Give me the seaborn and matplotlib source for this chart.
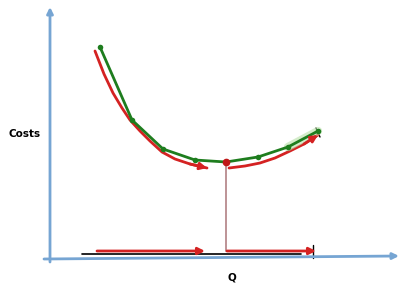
import matplotlib
matplotlib.use("Agg")
import matplotlib.pyplot as plt
import seaborn as sns
import pandas as pd

sns.set_theme(style="white")
plt.rcParams['font.family'] = ['DejaVu Sans']

# Diagram data (pixel-like coordinate space, y grows downward)
green_x = [100, 132, 163, 195, 226, 258, 288, 318]
green_y = [47, 120, 149, 160, 162, 157, 147, 131]

red1_x = [95, 104, 113, 122, 130, 140, 150, 162, 175, 190, 207]
red1_y = [51, 74, 93, 108, 120, 131, 141, 152, 159, 164, 168]

red2_x = [229, 245, 260, 275, 290, 304, 318]
red2_y = [168, 166, 163, 158, 151, 144, 135]

vertex_x = [226]
vertex_y = [162]

GREEN = "#1e7d1e"
RED = "#d42222"
BLUE = "#76a5d3"

fig = plt.figure(figsize=(4.0, 2.88), dpi=100)
ax = fig.add_axes([0, 0, 1, 1])

# axes arrows
arrow_kw = dict(arrowstyle="-|>", color=BLUE, lw=2, mutation_scale=9, shrinkA=0, shrinkB=0)
ax.annotate("", xy=(50, 7), xytext=(50, 262), arrowprops=arrow_kw)
ax.annotate("", xy=(399, 256), xytext=(44, 259), arrowprops=arrow_kw)

# black base line and ticks
ax.plot([82, 301], [254, 254], color="black", lw=1.2)
ax.plot([313, 313], [245, 258], color="black", lw=1)
ax.plot([316, 320], [128, 137], color="black", lw=1)

# vertical line from minimum
ax.plot([226, 226], [163, 251], color="#b78a8e", lw=1.3)

# bottom red arrows
red_kw = dict(arrowstyle="-|>", color=RED, lw=2, mutation_scale=10, shrinkA=0, shrinkB=0)
ax.annotate("", xy=(205, 251), xytext=(97, 251), arrowprops=red_kw)
ax.annotate("", xy=(316, 251), xytext=(227, 251), arrowprops=red_kw)

# red curves
d1 = pd.DataFrame({"x": red1_x, "y": red1_y})
d2 = pd.DataFrame({"x": red2_x, "y": red2_y})
sns.lineplot(data=d1, x="x", y="y", ax=ax, color=RED, lw=2, sort=False)
sns.lineplot(data=d2, x="x", y="y", ax=ax, color=RED, lw=2, sort=False)
ax.annotate("", xy=(red1_x[-1], red1_y[-1]), xytext=(red1_x[-2], red1_y[-2]), arrowprops=red_kw)
ax.annotate("", xy=(red2_x[-1], red2_y[-1]), xytext=(red2_x[-2], red2_y[-2]), arrowprops=red_kw)

# green curve (with faint glow near its end)
dg = pd.DataFrame({"x": green_x, "y": green_y})
sns.lineplot(data=dg.iloc[-2:], x="x", y="y", ax=ax, color="#b8e0a8", lw=6, sort=False, alpha=0.6)
sns.lineplot(data=dg, x="x", y="y", ax=ax, color=GREEN, lw=2, sort=False,
             marker="o", markersize=4, markeredgewidth=0)
ax.plot(vertex_x, vertex_y, "o", color="#c01818", markersize=4.5)

ax.set_xlim(0, 400)
ax.set_ylim(288, 0)
ax.axis("off")

ax.text(25, 134, "Costs", fontsize=7.5, fontweight="bold", ha="center", va="center", color="black")
ax.text(232, 278, "Q", fontsize=7.5, fontweight="bold", ha="center", va="center", color="black")

fig.savefig("out.png", dpi=100)
